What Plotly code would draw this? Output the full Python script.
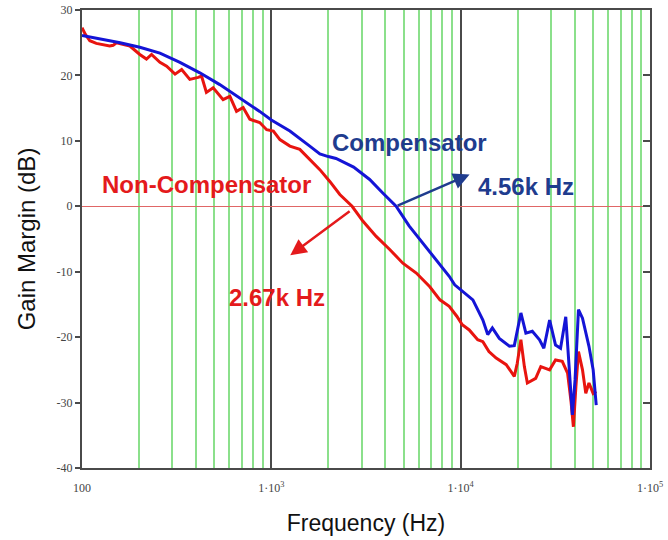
import math
import plotly.graph_objects as go

# ---- data ----
comp_freq = [100, 124, 159, 202, 258, 329, 419, 534, 681, 868, 1000, 1253, 1596, 1804, 2000,
             2196, 2720, 3306, 3889, 4560, 5340, 6290, 7460, 8700, 9300, 10200, 11600, 13100,
             13900, 14700, 16000, 18100, 19200, 20800, 22100, 23900, 26100, 27500, 29500,
             31700, 33700, 35900, 37400, 38900, 40200, 41900, 44000, 47600, 50100, 52000]
comp_db = [26.1, 25.6, 25.0, 24.3, 23.4, 22.0, 20.4, 18.6, 16.6, 14.5, 13.2, 11.5, 9.2, 8.0, 7.6,
           7.3, 6.0, 4.1, 2.0, 0.0, -3.0, -5.6, -8.2, -10.7, -12.0, -13.0, -14.3, -17.4,
           -19.6, -18.6, -20.2, -21.4, -21.3, -16.3, -19.4, -19.1, -20.4, -21.7, -17.4,
           -21.2, -21.7, -16.9, -25.5, -31.9, -26.5, -15.8, -17.1, -21.4, -25.0, -30.4]

noncomp_freq = [100, 104, 110, 119, 140, 146, 152, 165, 179, 202, 219, 233, 258, 280, 310, 336,
                371, 411, 428, 454, 493, 556, 604, 655, 710, 770, 868, 945, 1025, 1110, 1253,
                1414, 1596, 1804, 2036, 2300, 2670, 3050, 3580, 4220, 4950, 5830, 6870, 7770,
                8700, 9540, 10200, 11100, 12300, 13100, 14100, 15400, 17400, 19200, 19900,
                20800, 21700, 22500, 24900, 26500, 29500, 31700, 34400, 36700, 38200, 39400,
                40600, 41900, 44000, 45800, 47600, 50100, 52000]
noncomp_db = [27.3, 26.3, 25.3, 24.9, 24.5, 24.6, 25.0, 24.8, 24.5, 23.2, 22.5, 23.2, 22.0, 21.4,
              20.2, 20.9, 19.4, 19.7, 19.9, 17.4, 18.1, 16.3, 16.8, 14.5, 15.1, 13.3, 12.8, 11.7,
              11.5, 10.2, 9.2, 8.7, 7.2, 5.6, 3.8, 1.8, 0.0, -2.3, -4.6, -6.6, -8.7, -10.2,
              -12.3, -14.3, -15.3, -16.8, -18.1, -18.9, -20.4, -20.7, -22.2, -23.2, -24.2,
              -26.0, -24.0, -20.4, -24.5, -27.0, -26.3, -24.5, -25.0, -23.5, -23.7, -25.5,
              -29.6, -33.7, -27.6, -22.2, -25.0, -28.6, -27.0, -28.6, -28.3]

x_tickvals = [100, 1000, 10000, 100000]
x_ticktext = ["100", "1·10<sup>3</sup>", "1·10<sup>4</sup>", "1·10<sup>5</sup>"]
x_minor = [m * d for d in (100, 1000, 10000) for m in range(2, 10)]
y_tickvals = [30, 20, 10, 0, -10, -20, -30, -40]
y_ticktext = ["30", "20", "10", "0", "-10", "-20", "-30", "-40"]

comp_cross_hz = 4560
noncomp_cross_hz = 2670

BLUE_LINE = "#1414d6"
RED_LINE = "#e8140f"
BLUE_TEXT = "#1f3c8e"
RED_TEXT = "#e41a1c"
FRAME = "#4a4a4a"
GREEN = "#8be08b"

fig = go.Figure()
fig.add_trace(go.Scatter(x=noncomp_freq, y=noncomp_db, mode="lines",
                         line=dict(color=RED_LINE, width=3), name="Non-Compensator"))
fig.add_trace(go.Scatter(x=comp_freq, y=comp_db, mode="lines",
                         line=dict(color=BLUE_LINE, width=3), name="Compensator"))
# invisible trace to carry the right-hand inward ticks
fig.add_trace(go.Scatter(x=[100], y=[0], yaxis="y2", mode="markers",
                         marker=dict(opacity=0), showlegend=False, hoverinfo="skip"))

tick_font = dict(family="Liberation Serif", size=12, color="#444444")
fig.update_layout(
    width=668, height=540,
    margin=dict(l=82, r=18, t=10, b=72),
    paper_bgcolor="white", plot_bgcolor="white",
    showlegend=False,
    xaxis=dict(type="log", range=[2, 5], automargin=False,
               tickvals=x_tickvals, ticktext=x_ticktext, tickfont=tick_font,
               ticks="", ticklabelstandoff=8,
               showgrid=True, gridcolor=FRAME, gridwidth=2,
               minor=dict(tickvals=x_minor, showgrid=True, gridcolor=GREEN, gridwidth=2, ticks=""),
               showline=True, linecolor=FRAME, linewidth=2, mirror=True,
               zeroline=False,
               title=dict(text="Frequency (Hz)", standoff=20,
                          font=dict(family="Liberation Sans", size=23, color="#111111"))),
    yaxis=dict(range=[-40, 30], automargin=False,
               tickvals=y_tickvals, ticktext=y_ticktext, tickfont=tick_font,
               ticks="outside", ticklen=5, tickcolor=FRAME, tickwidth=2,
               showgrid=False, zeroline=True, zerolinecolor="#e06666", zerolinewidth=1,
               showline=True, linecolor=FRAME, linewidth=2, mirror=True,
               title=dict(text="Gain Margin (dB)", standoff=14,
                          font=dict(family="Liberation Sans", size=24, color="#111111"))),
    yaxis2=dict(range=[-40, 30], overlaying="y", side="right", automargin=False,
                tickvals=y_tickvals,
                showticklabels=False, ticks="inside", ticklen=7, tickcolor=FRAME, tickwidth=2,
                showgrid=False, zeroline=False, showline=False),
)

lg = math.log10
bold = dict(family="Liberation Sans", size=24)
anns = [
    dict(x=3.731, y=9.75, text="<b>Compensator</b>", font=dict(color=BLUE_TEXT, **bold)),
    dict(x=2.657, y=3.3, text="<b>Non-Compensator</b>", font=dict(color=RED_TEXT, **bold)),
    dict(x=4.343, y=3.06, text="<b>4.56k Hz</b>", font=dict(color=BLUE_TEXT, **bold)),
    dict(x=3.029, y=-14.0, text="<b>2.67k Hz</b>", font=dict(color=RED_TEXT, **bold)),
]
for a in anns:
    fig.add_annotation(xref="x", yref="y", showarrow=False, **a)

fig.add_annotation(x=4.047, y=4.85, ax=lg(comp_cross_hz), ay=0.0, xref="x", yref="y",
                   axref="x", ayref="y", text="", showarrow=True, arrowhead=2,
                   arrowsize=1.3, arrowwidth=2.5, arrowcolor=BLUE_TEXT)
fig.add_annotation(x=3.1, y=-7.5, ax=lg(noncomp_cross_hz) - 0.005, ay=-0.6, xref="x", yref="y",
                   axref="x", ayref="y", text="", showarrow=True, arrowhead=2,
                   arrowsize=1.3, arrowwidth=2.5, arrowcolor=RED_TEXT)

fig.write_html("out.html")
